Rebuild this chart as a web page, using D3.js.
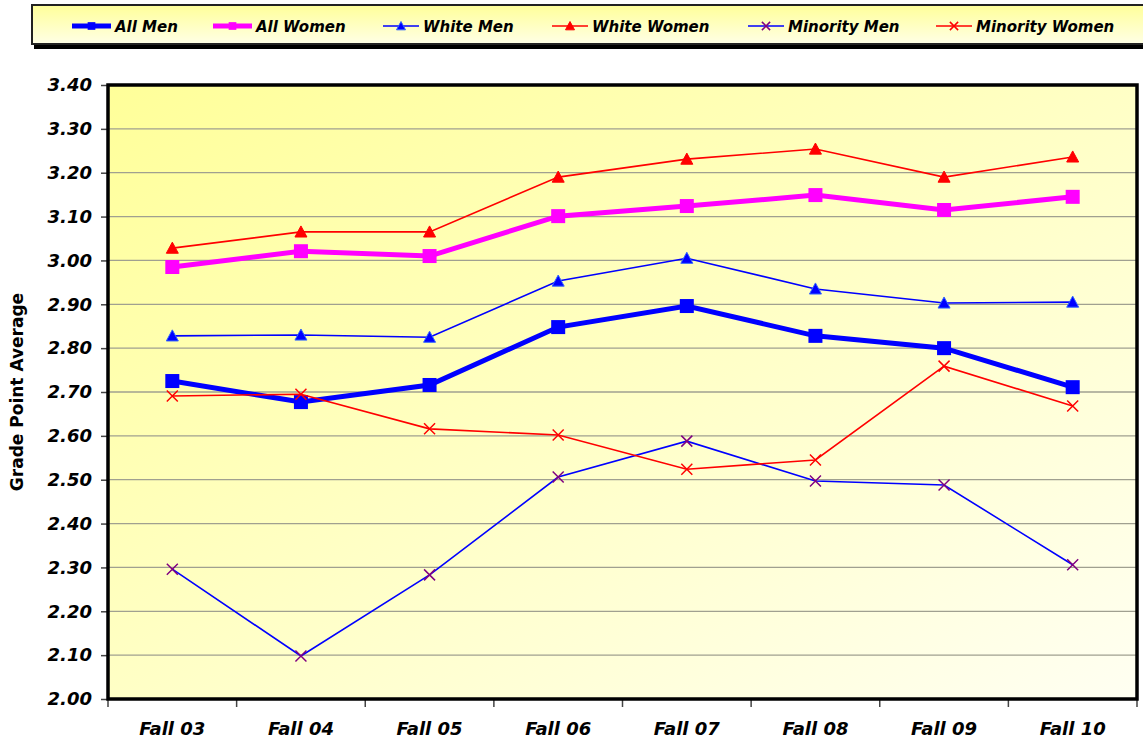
<!DOCTYPE html>
<html><head><meta charset="utf-8">
<script src="https://cdn.jsdelivr.net/npm/d3@7"></script>
<style>body{margin:0;background:#fff}svg{display:block}</style>
</head><body>
<svg id="c" width="1143" height="745"></svg>
<script>
const categories = ["Fall 03","Fall 04","Fall 05","Fall 06","Fall 07","Fall 08","Fall 09","Fall 10"];
const allMen = [2.725,2.677,2.716,2.848,2.896,2.828,2.800,2.711];
const allWomen = [2.985,3.021,3.010,3.101,3.124,3.149,3.115,3.145];
const whiteMen = [2.828,2.830,2.825,2.953,3.005,2.935,2.903,2.905];
const whiteWomen = [3.028,3.065,3.065,3.190,3.231,3.254,3.190,3.236];
const minorityMen = [2.296,2.098,2.283,2.506,2.588,2.497,2.488,2.306];
const minorityWomen = [2.691,2.695,2.616,2.602,2.524,2.545,2.759,2.668];
const yTicks = [2.0,2.1,2.2,2.3,2.4,2.5,2.6,2.7,2.8,2.9,3.0,3.1,3.2,3.3,3.4];

const series = [
  {name:"All Men", values:allMen, line:"#0000ff", width:5, marker:"square", mcolor:"#0000ff"},
  {name:"All Women", values:allWomen, line:"#ff00ff", width:5, marker:"square", mcolor:"#ff00ff"},
  {name:"White Men", values:whiteMen, line:"#0000ff", width:1.6, marker:"triangle", mcolor:"#0000ff"},
  {name:"White Women", values:whiteWomen, line:"#ff0000", width:1.6, marker:"triangle", mcolor:"#ff0000"},
  {name:"Minority Men", values:minorityMen, line:"#0000ff", width:1.6, marker:"x", mcolor:"#800080"},
  {name:"Minority Women", values:minorityWomen, line:"#ff0000", width:1.6, marker:"x", mcolor:"#ff0000"}
];

const svg = d3.select("#c");
const defs = svg.append("defs");
const pg = defs.append("linearGradient").attr("id","pg").attr("x1","0").attr("y1","0").attr("x2","1").attr("y2","1");
pg.append("stop").attr("offset","0").attr("stop-color","#ffff99");
pg.append("stop").attr("offset","1").attr("stop-color","#fffff2");
const lg = defs.append("linearGradient").attr("id","lg").attr("x1","0").attr("y1","0").attr("x2","0").attr("y2","1");
lg.append("stop").attr("offset","0").attr("stop-color","#ffff99");
lg.append("stop").attr("offset","1").attr("stop-color","#ffffe6");

const L = 108, R = 1137, T = 85, B = 699;
const x = d3.scaleBand().domain(categories).range([L, R]);
const y = d3.scaleLinear().domain([2.0, 3.4]).range([B, T]);
const FONT = "'DejaVu Sans', Verdana, sans-serif";

svg.append("rect").attr("x",L).attr("y",T).attr("width",R-L).attr("height",B-T).attr("fill","url(#pg)");

svg.append("g").selectAll("line").data(yTicks.slice(1,-1)).join("line")
  .attr("x1",L).attr("x2",R).attr("y1",d=>y(d)).attr("y2",d=>y(d))
  .attr("stroke","#a0a090").attr("stroke-width",1.3);

const yAxis = svg.append("g").attr("transform",`translate(${L},0)`)
  .call(d3.axisLeft(y).tickValues(yTicks).tickFormat(d3.format(".2f")).tickSize(7).tickPadding(8));
yAxis.select(".domain").remove();
yAxis.selectAll(".tick line").attr("stroke","#444").attr("stroke-width",1.5);
yAxis.selectAll("text").attr("font-family",FONT).attr("font-weight","bold")
  .attr("font-style","italic").attr("font-size","18px").attr("fill","#000").attr("dx","-1");

const xAxis = svg.append("g").attr("transform",`translate(0,${B})`)
  .call(d3.axisBottom(x).tickSize(0).tickPadding(23));
xAxis.select(".domain").remove();
xAxis.selectAll("text").attr("font-family",FONT).attr("font-weight","bold")
  .attr("font-style","italic").attr("font-size","18px").attr("fill","#000");
const bounds = categories.map(c=>x(c)).concat([R]);
svg.append("g").selectAll("line").data(bounds).join("line")
  .attr("x1",d=>d).attr("x2",d=>d).attr("y1",B).attr("y2",B+8)
  .attr("stroke","#444").attr("stroke-width",1.5);

svg.append("rect").attr("x",L).attr("y",T).attr("width",R-L).attr("height",B-T)
  .attr("fill","none").attr("stroke","#000").attr("stroke-width",3.5);

svg.append("text").attr("transform",`translate(23,${(T+B)/2}) rotate(-90)`)
  .attr("text-anchor","middle").attr("font-family",FONT)
  .attr("font-weight","bold").attr("font-size","17px").text("Grade Point Average");

function drawMarker(g, type, color, cx, cy, scale) {
  const s = scale || 1;
  if (type === "square") {
    g.append("rect").attr("x",cx-7*s).attr("y",cy-7*s).attr("width",14*s).attr("height",14*s).attr("fill",color);
  } else if (type === "triangle") {
    const h = 6*s;
    g.append("path").attr("d",`M${cx},${cy-h} L${cx+h},${cy+h*0.85} L${cx-h},${cy+h*0.85} Z`)
      .attr("fill",color).attr("stroke", color === "#0000ff" ? "#3366ff" : color).attr("stroke-width",1);
  } else {
    const h = 5.5*s;
    g.append("path").attr("d",`M${cx-h},${cy-h} L${cx+h},${cy+h} M${cx-h},${cy+h} L${cx+h},${cy-h}`)
      .attr("stroke",color).attr("stroke-width",1.5).attr("fill","none");
  }
}

const line = d3.line().x((d,i)=>x(categories[i])+x.bandwidth()/2).y(d=>y(d));
series.forEach(s => {
  const g = svg.append("g");
  g.append("path").attr("d",line(s.values)).attr("fill","none").attr("stroke",s.line).attr("stroke-width",s.width);
  s.values.forEach((v,i)=>drawMarker(g, s.marker, s.mcolor, x(categories[i])+x.bandwidth()/2, y(v)));
});

// legend
svg.append("rect").attr("x",34).attr("y",8).attr("width",1120).attr("height",41).attr("fill","#000");
svg.append("rect").attr("x",32).attr("y",5).attr("width",1120).attr("height",39)
  .attr("fill","url(#lg)").attr("stroke","#222").attr("stroke-width",2);
const legendX = [72,213,383,552,748,936];
series.forEach((s,i) => {
  const g = svg.append("g");
  const x0 = legendX[i], ly = 26;
  const len = s.width>2 ? 39 : 36;
  g.append("line").attr("x1",x0).attr("x2",x0+len).attr("y1",ly).attr("y2",ly)
    .attr("stroke",s.line).attr("stroke-width", s.width>2 ? 5 : 1.6);
  drawMarker(g, s.marker, s.mcolor, x0+len/2, ly, s.marker==="square"?0.55:0.75);
  g.append("text").attr("x",x0+len+4).attr("y",ly+5.5)
    .attr("font-family",FONT).attr("font-weight","bold")
    .attr("font-style","italic").attr("font-size","15px").text(s.name);
});
</script>
</body></html>
